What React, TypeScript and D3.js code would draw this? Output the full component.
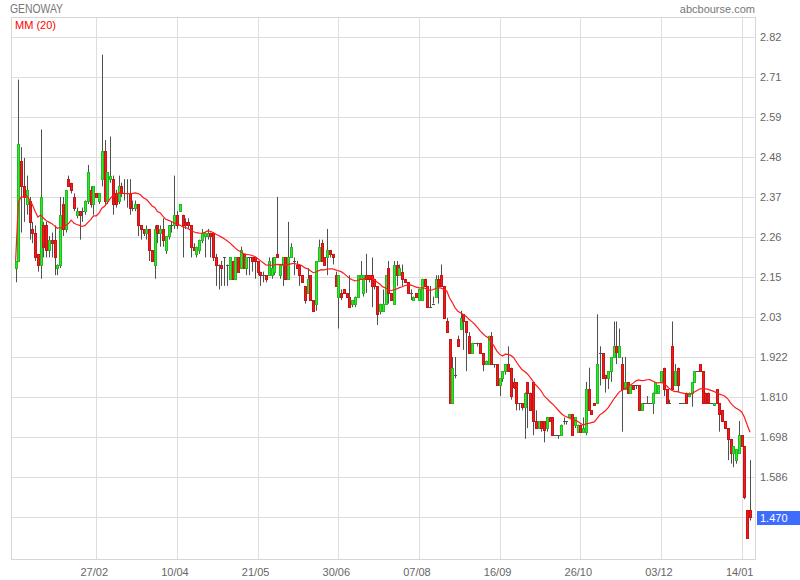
import React from "react";
import * as d3 from "d3";

const opens = [
2.17,2.19,2.47,2.40,2.35,2.36,2.28,2.27,2.21,2.18,2.29,2.29,2.22,2.25,2.25,2.17,2.18,2.35,2.28,2.42,
2.41,2.37,2.32,2.33,2.33,2.33,2.36,2.39,2.35,2.38,2.36,2.42,2.50,2.36,2.42,2.42,2.38,2.36,2.40,2.38,
2.38,2.38,2.34,2.34,2.35,2.29,2.28,2.27,2.28,2.22,2.18,2.29,2.27,2.28,2.22,2.26,2.29,2.29,2.32,2.33,
2.32,2.30,2.30,2.29,2.23,2.21,2.22,2.25,2.26,2.26,2.27,2.27,2.20,2.18,2.18,2.20,2.18,2.14,2.19,2.14,
2.20,2.17,2.21,2.17,2.20,2.20,2.20,2.19,2.16,2.15,2.15,2.15,2.15,2.16,2.21,2.15,2.18,2.20,2.14,2.20,
2.19,2.18,2.18,2.15,2.12,2.10,2.15,2.08,2.07,2.19,2.24,2.20,2.20,2.22,2.21,2.15,2.09,2.10,2.11,2.10,
2.09,2.07,2.07,2.09,2.14,2.10,2.15,2.15,2.15,2.14,2.12,2.05,2.05,2.07,2.17,2.10,2.07,2.18,2.15,2.16,
2.14,2.13,2.10,2.08,2.10,2.08,2.08,2.14,2.12,2.06,2.07,2.09,2.14,2.15,2.12,2.02,1.97,1.79,1.87,1.97,
2.00,2.04,2.02,1.98,1.93,1.96,1.96,1.96,1.93,1.90,1.90,1.98,1.90,1.90,1.84,1.86,1.88,1.90,1.89,1.85,
1.85,1.79,1.79,1.78,1.85,1.82,1.85,1.74,1.72,1.74,1.74,1.72,1.75,1.75,1.70,1.70,1.70,1.74,1.74,1.75,
1.76,1.73,1.71,1.73,1.71,1.71,1.83,1.77,1.79,1.79,1.93,1.93,1.87,1.86,1.88,1.92,1.95,1.92,1.90,1.83,
1.85,1.82,1.84,1.84,1.84,1.77,1.79,1.79,1.79,1.79,1.82,1.82,1.85,1.89,1.83,1.79,1.95,1.84,1.89,1.79,
1.79,1.82,1.81,1.82,1.85,1.88,1.90,1.88,1.82,1.82,1.79,1.785,1.83,1.79,1.77,1.74,1.72,1.69,1.65,1.63,
1.65,1.70,1.67,1.49,1.49];

const highs = [
2.19,2.70,2.51,2.48,2.43,2.37,2.30,2.29,2.21,2.56,2.30,2.30,2.26,2.27,2.29,2.18,2.37,2.37,2.39,2.43,
2.41,2.38,2.34,2.33,2.34,2.36,2.46,2.40,2.40,2.38,2.38,2.77,2.53,2.44,2.54,2.43,2.39,2.43,2.41,2.42,
2.42,2.42,2.36,2.36,2.35,2.29,2.28,2.29,2.28,2.22,2.29,2.29,2.29,2.31,2.26,2.29,2.30,2.43,2.33,2.35,
2.32,2.31,2.31,2.29,2.24,2.23,2.25,2.28,2.27,2.28,2.27,2.27,2.21,2.18,2.19,2.20,2.18,2.20,2.19,2.20,
2.20,2.23,2.21,2.20,2.20,2.20,2.20,2.19,2.16,2.16,2.15,2.20,2.20,2.20,2.37,2.18,2.20,2.20,2.30,2.24,
2.20,2.19,2.18,2.15,2.12,2.17,2.15,2.08,2.19,2.25,2.25,2.20,2.28,2.22,2.21,2.16,2.15,2.11,2.11,2.10,
2.15,2.08,2.09,2.15,2.19,2.15,2.21,2.15,2.20,2.14,2.12,2.07,2.11,2.15,2.19,2.10,2.19,2.19,2.18,2.18,
2.14,2.13,2.11,2.09,2.10,2.11,2.14,2.14,2.12,2.12,2.09,2.15,2.15,2.18,2.12,2.03,1.97,1.92,1.92,1.98,
2.05,2.04,2.02,1.99,1.96,1.96,1.96,1.96,1.93,1.91,1.98,1.99,1.90,1.90,1.86,1.88,1.90,1.95,1.89,1.86,
1.85,1.79,1.79,1.82,1.85,1.82,1.85,1.77,1.74,1.74,1.74,1.75,1.75,1.75,1.70,1.70,1.73,1.75,1.74,1.76,
1.76,1.75,1.73,1.73,1.75,1.85,1.89,1.77,1.79,2.04,1.95,1.93,1.87,1.88,1.92,2.02,2.02,2.00,1.92,1.92,
1.85,1.84,1.84,1.84,1.84,1.79,1.79,1.81,1.79,1.82,1.85,1.84,1.88,1.89,1.83,1.80,2.02,1.90,1.89,1.79,
1.79,1.82,1.82,1.85,1.88,1.88,1.90,1.88,1.82,1.82,1.79,1.79,1.83,1.79,1.77,1.74,1.72,1.69,1.67,1.66,
1.74,1.70,1.67,1.49,1.63];

const lows = [
2.13,2.19,2.27,2.30,2.32,2.25,2.24,2.19,2.16,2.14,2.20,2.20,2.20,2.20,2.15,2.15,2.17,2.26,2.27,2.40,
2.38,2.33,2.31,2.25,2.30,2.32,2.35,2.34,2.32,2.37,2.35,2.40,2.35,2.35,2.41,2.32,2.34,2.35,2.37,2.36,
2.34,2.32,2.33,2.33,2.26,2.25,2.26,2.25,2.19,2.19,2.14,2.24,2.23,2.23,2.21,2.25,2.27,2.28,2.28,2.33,
2.20,2.28,2.28,2.20,2.22,2.20,2.21,2.24,2.20,2.25,2.20,2.19,2.12,2.11,2.12,2.12,2.12,2.14,2.14,2.14,
2.16,2.17,2.17,2.15,2.15,2.16,2.14,2.15,2.12,2.13,2.13,2.15,2.14,2.15,2.20,2.14,2.12,2.14,2.14,2.20,
2.15,2.17,2.12,2.13,2.07,2.10,2.08,2.05,2.05,2.19,2.19,2.18,2.15,2.20,2.18,2.12,2.00,2.08,2.10,2.09,
2.06,2.06,2.06,2.09,2.14,2.09,2.10,2.13,2.06,2.11,2.01,2.04,2.05,2.07,2.07,2.08,2.07,2.12,2.15,2.12,
2.13,2.10,2.08,2.08,2.09,2.08,2.08,2.12,2.06,2.06,2.07,2.09,2.07,2.12,2.03,1.99,1.79,1.79,1.86,1.95,
2.00,1.94,1.88,1.93,1.93,1.96,1.95,1.93,1.88,1.90,1.90,1.90,1.89,1.84,1.81,1.85,1.87,1.88,1.80,1.83,
1.77,1.77,1.77,1.69,1.72,1.77,1.70,1.72,1.72,1.71,1.68,1.71,1.74,1.70,1.70,1.69,1.70,1.73,1.73,1.75,
1.70,1.72,1.71,1.71,1.71,1.70,1.77,1.76,1.785,1.79,1.84,1.86,1.82,1.83,1.85,1.92,1.90,1.92,1.71,1.83,
1.82,1.82,1.83,1.83,1.77,1.77,1.79,1.79,1.79,1.76,1.82,1.82,1.85,1.81,1.79,1.79,1.83,1.84,1.82,1.79,
1.79,1.79,1.81,1.78,1.85,1.88,1.88,1.79,1.79,1.79,1.79,1.785,1.79,1.71,1.74,1.72,1.63,1.62,1.61,1.62,
1.65,1.67,1.52,1.41,1.46];

const closes = [
2.19,2.52,2.40,2.37,2.39,2.30,2.27,2.20,2.18,2.37,2.23,2.22,2.25,2.24,2.20,2.18,2.32,2.28,2.39,2.40,
2.39,2.34,2.33,2.32,2.33,2.36,2.44,2.35,2.40,2.37,2.38,2.50,2.36,2.44,2.43,2.35,2.35,2.40,2.38,2.38,
2.38,2.34,2.34,2.35,2.29,2.28,2.27,2.28,2.22,2.19,2.28,2.27,2.28,2.25,2.26,2.29,2.29,2.32,2.29,2.35,
2.29,2.29,2.29,2.23,2.22,2.23,2.25,2.27,2.27,2.27,2.26,2.20,2.18,2.18,2.17,2.20,2.18,2.20,2.14,2.20,
2.16,2.22,2.17,2.20,2.20,2.19,2.19,2.16,2.15,2.15,2.14,2.19,2.17,2.20,2.20,2.18,2.20,2.14,2.20,2.23,
2.19,2.17,2.15,2.13,2.08,2.14,2.08,2.05,2.19,2.23,2.19,2.18,2.22,2.21,2.20,2.12,2.15,2.09,2.10,2.09,
2.06,2.08,2.09,2.15,2.15,2.15,2.14,2.14,2.12,2.12,2.04,2.07,2.07,2.15,2.10,2.08,2.18,2.15,2.17,2.14,
2.13,2.10,2.10,2.09,2.09,2.11,2.14,2.12,2.06,2.06,2.07,2.14,2.12,2.12,2.03,1.99,1.79,1.89,1.87,1.95,
2.03,2.02,1.99,1.93,1.96,1.96,1.96,1.93,1.90,1.91,1.98,1.90,1.90,1.84,1.86,1.88,1.90,1.88,1.81,1.835,
1.79,1.79,1.78,1.82,1.82,1.77,1.74,1.72,1.74,1.72,1.715,1.75,1.74,1.70,1.70,1.70,1.73,1.74,1.74,1.76,
1.70,1.75,1.73,1.71,1.72,1.83,1.77,1.76,1.785,1.90,1.93,1.86,1.86,1.88,1.92,1.95,1.935,1.95,1.83,1.85,
1.82,1.84,1.83,1.84,1.77,1.79,1.79,1.79,1.79,1.82,1.85,1.84,1.88,1.83,1.79,1.79,1.83,1.88,1.84,1.79,
1.79,1.79,1.82,1.85,1.88,1.88,1.88,1.79,1.79,1.79,1.79,1.79,1.79,1.76,1.74,1.72,1.69,1.65,1.67,1.66,
1.70,1.67,1.525,1.41,1.47];

const xTickLabels = ["27/02", "10/04", "21/05", "30/06", "07/08", "16/09", "26/10", "03/12", "14/01"];
const xTickIndex = [29, 58, 87, 116, 145, 174, 203, 232, 261];
const yTickValues = [2.82, 2.7075, 2.595, 2.4825, 2.37, 2.2575, 2.145, 2.0325, 1.92, 1.8075, 1.695, 1.5825, 1.47];
const yTickLabels = ["2.82", "2.71", "2.59", "2.48", "2.37", "2.26", "2.15", "2.03", "1.922", "1.810", "1.698", "1.586", ""];
const lastPriceLabel = "1.470";
const maPeriod = 20;
const title = "GENOWAY";
const source = "abcbourse.com";
const maLabel = "MM (20)";

const FONT = "'Liberation Sans', Arial, Helvetica, sans-serif";

export default function App() {
  const left = 11, right = 755, top = 17, bottom = 559;
  const n = closes.length;
  const x = d3.scaleLinear().domain([0, n - 1]).range([15.6, 750]);
  const y = d3.scaleLinear().domain([1.352, 2.876]).range([bottom, top]);

  const ma = closes.map((_, i) => {
    const s = Math.max(0, i - maPeriod + 1);
    return d3.mean(closes.slice(s, i + 1)) as number;
  });
  const maLine = d3.line<number>().x((_, i) => x(i)).y((d) => y(d)).curve(d3.curveLinear)(ma) || "";

  const lastY = y(closes[n - 1]);

  return (
    <svg width={800} height={580} style={{ position: "absolute", left: 0, top: 0, background: "#fff" }}>
      <rect x={0} y={0} width={800} height={580} fill="#fff" />
      {yTickValues.map((v, i) => (
        <line key={"gy" + i} x1={left} x2={right} y1={Math.round(y(v)) + 0.5} y2={Math.round(y(v)) + 0.5} stroke="#dedede" />
      ))}
      {xTickIndex.map((t, i) => (
        <line key={"gx" + i} x1={Math.round(x(t)) + 0.5} x2={Math.round(x(t)) + 0.5} y1={top} y2={bottom} stroke="#dedede" />
      ))}
      <rect x={left + 0.5} y={top + 0.5} width={right - left} height={bottom - top} fill="none" stroke="#d6d6d6" />

      {closes.map((c, i) => {
        const o = opens[i];
        const cx = Math.round(x(i));
        const yh = y(highs[i]);
        const yl = y(lows[i]);
        const t = Math.round(y(Math.max(o, c)));
        const b = Math.round(y(Math.min(o, c)));
        const up = c > o;
        const doji = o === c;
        return (
          <g key={"c" + i}>
            <line x1={cx + 0.5} x2={cx + 0.5} y1={yh} y2={yl} stroke="#505050" strokeWidth={1} />
            {doji ? (
              <line x1={cx - 1} x2={cx + 2} y1={t + 0.5} y2={t + 0.5} stroke="#505050" />
            ) : (
              <rect
                x={cx - 0.5}
                y={t + 0.5}
                width={2}
                height={Math.max(1, b - t)}
                fill={up ? "#2ee82e" : "#f01c1c"}
                stroke={up ? "#22bb22" : "#c81414"}
                strokeWidth={1}
              />
            )}
          </g>
        );
      })}

      <path d={maLine} fill="none" stroke="#ff1a1a" strokeWidth={1.2} />

      {yTickValues.map((v, i) =>
        yTickLabels[i] ? (
          <text key={"yl" + i} x={760} y={y(v) + 4} fontFamily={FONT} fontSize={11} fill="#666">
            {yTickLabels[i]}
          </text>
        ) : null
      )}
      <rect x={757} y={Math.round(lastY) - 6} width={43} height={14} fill="#3d6dff" />
      <text x={760} y={Math.round(lastY) + 5} fontFamily={FONT} fontSize={11} fill="#fff">
        {lastPriceLabel}
      </text>

      {xTickIndex.map((t, i) => (
        <text key={"xl" + i} x={x(t) - 2} y={576} textAnchor="middle" fontFamily={FONT} fontSize={11} fill="#666">
          {xTickLabels[i]}
        </text>
      ))}

      <text x={10} y={13} fontFamily={FONT} fontSize={12} fill="#777" textLength={53} lengthAdjust="spacingAndGlyphs">
        {title}
      </text>
      <text x={755} y={13} textAnchor="end" fontFamily={FONT} fontSize={11} fill="#777">
        {source}
      </text>
      <text x={15} y={29} fontFamily={FONT} fontSize={11} fill="#ff0000">
        {maLabel}
      </text>
    </svg>
  );
}
